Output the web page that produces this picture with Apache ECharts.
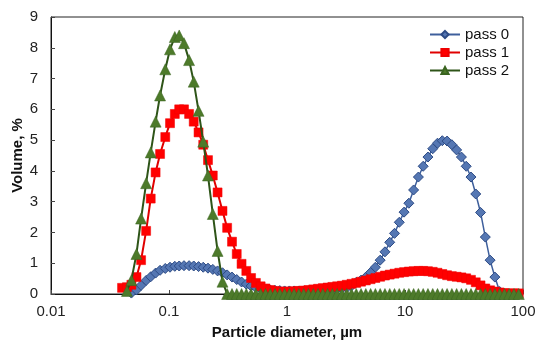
<!DOCTYPE html>
<html>
<head>
<meta charset="utf-8">
<script src="https://cdn.jsdelivr.net/npm/echarts@6/dist/echarts.min.js"></script>
<style>
  html, body { margin: 0; padding: 0; background: #fff; }
  #chart { width: 536px; height: 341px; }
</style>
</head>
<body>
<div id="chart"></div>
<script>
// Size channels of the analyser, µm
const diameters = [
  0.040, 0.044, 0.048, 0.053, 0.058, 0.064, 0.070, 0.077, 0.084, 0.093,
  0.102, 0.112, 0.122, 0.134, 0.148, 0.162, 0.178, 0.195, 0.214, 0.235,
  0.258, 0.284, 0.311, 0.342, 0.375, 0.412, 0.452, 0.496, 0.545, 0.598,
  0.657, 0.721, 0.791, 0.869, 0.954, 1.047, 1.149, 1.261, 1.385, 1.520,
  1.669, 1.832, 2.011, 2.208, 2.423, 2.660, 2.920, 3.206, 3.519, 3.863,
  4.241, 4.656, 5.111, 5.611, 6.159, 6.761, 7.422, 8.148, 8.944, 9.819,
  10.78, 11.83, 12.99, 14.26, 15.65, 17.18, 18.86, 20.71, 22.73, 24.95,
  27.39, 30.07, 33.01, 36.24, 39.78, 43.67, 47.94, 52.62, 57.77, 63.41,
  69.61, 76.42, 83.89, 92.09
];

// Volume %, one value per channel (null = not reported)
const pass0 = [
  null, null, 0.03, 0.13, 0.28, 0.44, 0.56, 0.68, 0.77, 0.83,
  0.87, 0.90, 0.91, 0.92, 0.92, 0.91, 0.89, 0.87, 0.84, 0.80,
  0.75, 0.69, 0.62, 0.55, 0.47, 0.39, 0.32, 0.26, 0.21, 0.17,
  0.15, 0.13, 0.12, 0.11, 0.10, 0.10, 0.10, 0.10, 0.10, 0.10,
  0.11, 0.12, 0.13, 0.14, 0.15, 0.16, 0.18, 0.20, 0.26, 0.38,
  0.45, 0.55, 0.70, 0.87, 1.10, 1.37, 1.68, 1.97, 2.33, 2.66,
  2.95, 3.38, 3.80, 4.15, 4.45, 4.72, 4.90, 4.98, 4.97, 4.85,
  4.68, 4.45, 4.15, 3.80, 3.25, 2.65, 1.85, 1.10, 0.55, 0.08,
  null, null, null, null
];

const pass1 = [
  0.20, 0.22, 0.30, 0.55, 1.10, 2.05, 3.10, 3.95, 4.55, 5.10,
  5.55, 5.85, 6.00, 6.00, 5.85, 5.60, 5.25, 4.85, 4.35, 3.85,
  3.30, 2.70, 2.15, 1.70, 1.30, 0.98, 0.75, 0.52, 0.36, 0.25,
  0.18, 0.13, 0.10, 0.08, 0.08, 0.08, 0.09, 0.10, 0.11, 0.13,
  0.15, 0.17, 0.19, 0.21, 0.23, 0.25, 0.27, 0.30, 0.33, 0.36,
  0.40, 0.44, 0.48, 0.52, 0.56, 0.60, 0.63, 0.66, 0.69, 0.71,
  0.73, 0.74, 0.75, 0.75, 0.74, 0.72, 0.69, 0.65, 0.61, 0.58,
  0.56, 0.54, 0.51, 0.46, 0.38, 0.28, 0.18, 0.12, 0.08, 0.05,
  0.03, 0.02, 0.02, 0.02
];

const pass2 = [
  null, 0.10, 0.45, 1.30, 2.45, 3.60, 4.60, 5.60, 6.45, 7.30,
  7.95, 8.35, 8.40, 8.15, 7.60, 6.90, 5.95, 4.95, 3.85, 2.60,
  1.40, 0.40, 0, 0, 0, 0, 0, 0, 0, 0,
  0, 0, 0, 0, 0, 0, 0, 0, 0, 0,
  0, 0, 0, 0, 0, 0, 0, 0, 0, 0,
  0, 0, 0, 0, 0, 0, 0, 0, 0, 0,
  0, 0, 0, 0, 0, 0, 0, 0, 0, 0,
  0, 0, 0, 0, 0, 0, 0, 0, 0, 0,
  0, 0, 0, 0
];

const xTicks = [0.01, 0.1, 1, 10, 100];
const yTicks = [0, 1, 2, 3, 4, 5, 6, 7, 8, 9];

function pairs(values) {
  const out = [];
  values.forEach((v, i) => { if (v !== null) out.push([diameters[i], v]); });
  return out;
}

const chart = echarts.init(document.getElementById('chart'), null, { renderer: 'canvas' });

const font = 'Arial, "Liberation Sans", Helvetica, sans-serif';

chart.setOption({
  animation: false,
  backgroundColor: '#ffffff',
  grid: {
    left: 51, right: 13, top: 17, bottom: 47,
    outerBoundsMode: 'none', containLabel: false,
    show: true, borderColor: '#222', borderWidth: 1
  },
  legend: {
    orient: 'vertical',
    left: 424,
    top: 22,
    itemWidth: 30,
    itemHeight: 9,
    itemGap: 3,
    textStyle: { fontFamily: font, fontSize: 15, color: '#111' },
    data: ['pass 0', 'pass 1', 'pass 2']
  },
  xAxis: {
    type: 'log',
    logBase: 10,
    min: xTicks[0],
    max: xTicks[xTicks.length - 1],
    name: 'Particle diameter, µm',
    nameLocation: 'middle',
    nameGap: 31,
    nameMoveOverlap: false,
    nameTextStyle: { fontFamily: font, fontSize: 15, fontWeight: 'bold', color: '#111' },
    axisLine: { lineStyle: { color: '#111', width: 1 } },
    axisTick: { inside: true, length: 4, lineStyle: { color: '#444' } },
    minorTick: { show: false },
    splitLine: { show: false },
    axisLabel: {
      fontFamily: font, fontSize: 15, color: '#222', margin: 10,
      formatter: v => {
        const hit = xTicks.find(t => Math.abs(Math.log10(t) - Math.log10(v)) < 1e-6);
        return hit !== undefined ? String(hit) : '';
      }
    }
  },
  yAxis: {
    type: 'value',
    min: yTicks[0],
    max: yTicks[yTicks.length - 1],
    interval: 1,
    name: 'Volume, %',
    nameLocation: 'middle',
    nameGap: 26,
    nameMoveOverlap: false,
    nameTextStyle: { fontFamily: font, fontSize: 15, fontWeight: 'bold', color: '#111' },
    axisLine: { show: true, lineStyle: { color: '#111', width: 1 } },
    axisTick: { show: true, inside: true, length: 4, lineStyle: { color: '#444' } },
    splitLine: { show: false },
    axisLabel: { fontFamily: font, fontSize: 15, color: '#222', margin: 13 }
  },
  series: [
    {
      name: 'pass 0',
      type: 'line',
      data: pairs(pass0),
      symbol: 'diamond',
      symbolSize: 10,
      lineStyle: { color: '#3e5f9c', width: 1.5 },
      itemStyle: { color: '#5577b3', borderColor: '#2d4b85', borderWidth: 1 },
      z: 2
    },
    {
      name: 'pass 1',
      type: 'line',
      data: pairs(pass1),
      symbol: 'rect',
      symbolSize: 9,
      lineStyle: { color: '#e00000', width: 2 },
      itemStyle: { color: '#ff0000', borderColor: '#ee0000', borderWidth: 0.5 },
      z: 3
    },
    {
      name: 'pass 2',
      type: 'line',
      data: pairs(pass2),
      symbol: 'triangle',
      symbolSize: 11,
      lineStyle: { color: '#2e5418', width: 2 },
      itemStyle: { color: '#4d7a2a', borderColor: '#3a6420', borderWidth: 0.5 },
      z: 4
    }
  ]
});
</script>
</body>
</html>
